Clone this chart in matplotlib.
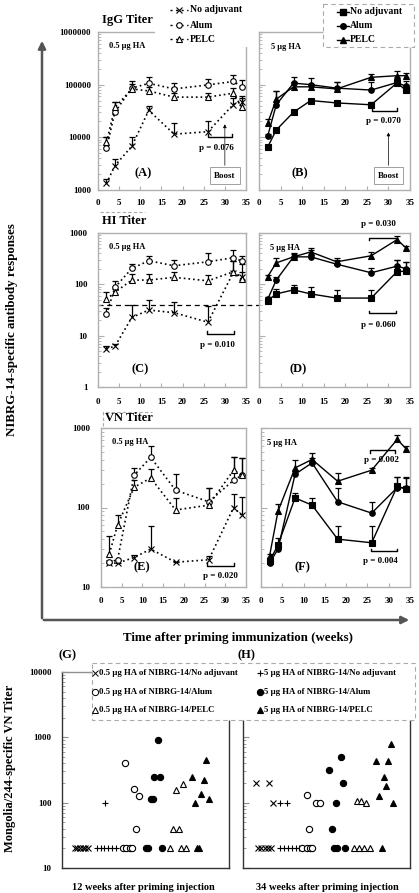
import numpy as np
import matplotlib
matplotlib.use('Agg')
import matplotlib.pyplot as plt
from matplotlib.patches import Rectangle
from matplotlib.lines import Line2D
from matplotlib.ticker import FixedLocator, LogLocator, FuncFormatter, NullFormatter
import matplotlib.transforms as mtransforms

plt.rcParams['font.family'] = ['Liberation Serif', 'DejaVu Serif']
plt.rcParams['font.weight'] = 'bold'

W, H = 419, 893

# ---------------- data ----------------
weeks = [2, 4, 8, 12, 18, 26, 32, 34]
group_labels = ['No adjuvant', 'Alum', 'PELC']

# IgG titer, 0.5 ug HA
igg_05_none = [1330, 2900, 6800, 32500, 11500, 12800, 42000, 47000]
igg_05_none_top = [1650, 3900, 10200, 39000, 19000, 20500, 55000, 62000]
igg_05_alum = [6200, 30000, 86000, 106000, 83000, 99000, 115000, 91000]
igg_05_alum_top = [10000, 46000, 118000, 137000, 107000, 128000, 155000, 120000]
igg_05_pelc = [8000, 37000, 83000, 76000, 58000, 58000, 69000, 37000]
igg_05_pelc_top = [10000, 46000, 105000, 90000, 69000, 70000, 85000, 57000]
# IgG titer, 5 ug HA
igg_5_none = [6500, 13800, 30000, 50000, 45000, 41500, 108000, 79000]
igg_5_none_top = [7000, 15000, 31000, 54000, 49000, 47000, 120000, 100000]
igg_5_alum = [10500, 41500, 107000, 100000, 86000, 79000, 110000, 93000]
igg_5_alum_top = [11500, 76000, 138000, 132000, 110000, 110000, 140000, 118000]
igg_5_pelc = [18500, 53000, 91000, 91000, 83000, 138000, 148000, 148000]
igg_5_pelc_top = [22000, 77000, 110000, 105000, 110000, 158000, 185000, 170000]

# HI titer, 0.5 ug HA
hi_05_none = [5.6, 6.2, 22.6, 31.6, 28, 18.3, 170, 140]
hi_05_none_top = [6.2, 6.8, 40, 50, 46, 37, 290, 250]
hi_05_alum = [26, 87, 204, 288, 230, 275, 330, 285]
hi_05_alum_top = [34, 117, 247, 354, 296, 410, 460, 360]
hi_05_pelc = [51, 70, 121, 121, 137, 117, 176, 125]
hi_05_pelc_top = [72, 80, 158, 158, 176, 150, 290, 175]
# HI titer, 5 ug HA
hi_5_none = [48, 65, 78, 65, 54, 54, 177, 180]
hi_5_none_top = [57, 80, 97, 87, 78, 78, 296, 275]
hi_5_alum = [51, 121, 343, 343, 247, 168, 226, 203]
hi_5_alum_top = [56, 140, 400, 460, 296, 205, 296, 275]
hi_5_pelc = [141, 262, 343, 428, 275, 360, 743, 520]
hi_5_pelc_top = [155, 320, 390, 500, 320, 430, 870, 560]

# VN titer, 0.5 ug HA
vn_05_none = [20, 20, 23.5, 30, 20.5, 22, 100, 80]
vn_05_none_top = [20, 20, 25, 58, 20.5, 24.5, 150, 135]
vn_05_alum = [20.5, 22, 255, 427, 165, 118, 220, 255]
vn_05_alum_top = [20.5, 22, 315, 596, 263, 174, 428, 420]
vn_05_pelc = [26, 60, 180, 235, 93, 107, 295, 255]
vn_05_pelc_top = [44, 80, 220, 301, 131, 174, 430, 420]
# VN titer, 5 ug HA
vn_5_none = [21, 34, 132, 107, 40, 36, 185, 172]
vn_5_none_top = [24, 41, 153, 132, 58, 58, 245, 240]
vn_5_alum = [20, 30, 262, 364, 118, 85, 178, 175]
vn_5_alum_top = [21, 33, 300, 420, 175, 118, 240, 235]
vn_5_pelc = [24.4, 90, 315, 402, 214, 295, 720, 552]
vn_5_pelc_top = [26, 110, 400, 483, 273, 310, 815, 600]

# Mongolia/244 VN titers, individual animals (x = jitter position within panel, 0-100)
g_none05_x = [7.6, 9.1, 10.7, 12.3, 13.9, 15.5]
g_none05_v = [20, 20, 20, 20, 20, 20]
g_none5_x = [26.0, 20.9, 23.1, 25.4, 27.8, 30.0, 32.4]
g_none5_v = [100, 20, 20, 20, 20, 20, 20]
g_alum05_x = [37.6, 42.9, 45.9, 44.3, 36.4, 38.4, 40.8, 41.9]
g_alum05_v = [400, 160, 128, 40, 20, 20, 20, 20]
g_alum5_x = [57.3, 55.3, 58.6, 53.3, 54.7, 50.3, 51.7, 59.8]
g_alum5_v = [900, 250, 250, 113, 113, 20, 20, 20]
g_pelc05_x = [68.2, 72.2, 66.6, 69.8, 64.6, 71.2, 74.2]
g_pelc05_v = [155, 195, 40, 40, 20, 20, 20]
g_pelc5_x = [77.7, 86.5, 84.9, 83.1, 79.7, 88.1, 81.1, 82.3]
g_pelc5_v = [250, 445, 225, 135, 100, 113, 20, 20]

h_none05_x = [8.0, 15.4, 18.0, 9.0, 11.0, 13.0, 15.0, 17.0]
h_none05_v = [200, 200, 100, 20, 20, 20, 20, 20]
h_none5_x = [22.4, 26.4, 22.0, 24.4, 26.8, 29.2, 31.6, 33.6]
h_none5_v = [100, 100, 20, 20, 20, 20, 20, 20]
h_alum05_x = [38.4, 43.6, 46.4, 39.6, 35.6, 38.4, 40.0, 41.6]
h_alum05_v = [130, 100, 100, 40, 20, 20, 20, 20]
h_alum5_x = [58.6, 51.2, 60.0, 55.6, 53.0, 54.4, 56.4, 61.0]
h_alum5_v = [500, 316, 200, 100, 40, 20, 20, 20]
h_pelc05_x = [68.0, 70.6, 73.6, 66.4, 69.6, 72.6, 76.0]
h_pelc05_v = [105, 105, 100, 20, 20, 20, 20]
h_pelc5_x = [88.6, 79.4, 87.0, 84.2, 85.6, 81.4, 90.0, 83.0]
h_pelc5_v = [780, 440, 440, 250, 183, 127, 100, 20]

scatter_labels_05 = ['0.5 \u03bcg HA of NIBRG-14/No adjuvant', '0.5 \u03bcg HA of NIBRG-14/Alum',
                     '0.5 \u03bcg HA of NIBRG-14/PELC']
scatter_labels_5 = ['5 \u03bcg HA of NIBRG-14/No adjuvant', '5 \u03bcg HA of NIBRG-14/Alum',
                    '5 \u03bcg HA of NIBRG-14/PELC']

# ---------------- figure ----------------
fig = plt.figure(figsize=(W / 100, H / 100), dpi=100)
SPINE = '#b0b0b0'
DOT = (0, (1, 1.8))


def px_axes(x0, y0, x1, y1):
    return fig.add_axes([x0 / W, 1 - y1 / H, (x1 - x0) / W, (y1 - y0) / H])


def style_panel(ax, ylim, majors, ylabels, ypad, xpad):
    ax.set_yscale('log')
    ax.set_ylim(*ylim)
    ax.set_xlim(0, 35)
    ax.yaxis.set_major_locator(FixedLocator(majors))
    ax.yaxis.set_minor_locator(LogLocator(base=10, subs=np.arange(2, 10)))
    ax.yaxis.set_minor_formatter(NullFormatter())
    ax.yaxis.set_major_formatter(FuncFormatter(lambda v, p: f'{v:.0f}'))
    ax.xaxis.set_major_locator(FixedLocator([0, 5, 10, 15, 20, 25, 30, 35]))
    for s in ax.spines.values():
        s.set_color(SPINE)
        s.set_linewidth(1.0)
    ax.tick_params(axis='both', which='both', direction='in', color=SPINE)
    ax.tick_params(axis='y', which='major', length=4, pad=ypad, labelsize=6.5, labelleft=ylabels)
    ax.tick_params(axis='y', which='minor', length=2.5)
    ax.tick_params(axis='x', which='major', length=3, pad=xpad, labelsize=6.5)


def draw_series(ax, vals, tops, marker, filled, dotted):
    ax.plot(weeks, vals, color='black', lw=1.0 if not dotted else 1.2,
            ls=DOT if dotted else '-', marker=marker, ms=4 if marker != 'x' else 4.5,
            mfc='black' if filled else 'white', mec='black', mew=0.8, zorder=3)
    ax.vlines(weeks, vals, tops, color='black', lw=0.9, zorder=2)
    ax.plot(weeks, tops, ls='none', marker='_', ms=4, mew=0.9, color='black', zorder=2)


def bracket(ax, x0, x1, y, f):
    ax.plot([x0, x0, x1, x1], [y * f, y, y, y * f], color='black', lw=1.0, clip_on=False)


# Panel A / B (IgG)
axA = px_axes(98, 32, 246, 190)
axB = px_axes(259, 32, 410, 190)
style_panel(axA, (1e3, 1e6), [1e3, 1e4, 1e5, 1e6], True, 5, 6.5)
style_panel(axB, (1e3, 1e6), [1e3, 1e4, 1e5, 1e6], False, 5, 6.5)
draw_series(axA, igg_05_none, igg_05_none_top, 'x', False, True)
draw_series(axA, igg_05_alum, igg_05_alum_top, 'o', False, True)
draw_series(axA, igg_05_pelc, igg_05_pelc_top, '^', False, True)
draw_series(axB, igg_5_none, igg_5_none_top, 's', True, False)
draw_series(axB, igg_5_alum, igg_5_alum_top, 'o', True, False)
draw_series(axB, igg_5_pelc, igg_5_pelc_top, '^', True, False)

# Panel C / D (HI)
axC = px_axes(98, 233, 246, 387)
axD = px_axes(259, 233, 410, 387)
style_panel(axC, (1, 1e3), [1, 10, 100, 1000], True, 7.5, 8)
style_panel(axD, (1, 1e3), [1, 10, 100, 1000], False, 7.5, 8)
draw_series(axC, hi_05_none, hi_05_none_top, 'x', False, True)
draw_series(axC, hi_05_alum, hi_05_alum_top, 'o', False, True)
draw_series(axC, hi_05_pelc, hi_05_pelc_top, '^', False, True)
draw_series(axD, hi_5_none, hi_5_none_top, 's', True, False)
draw_series(axD, hi_5_alum, hi_5_alum_top, 'o', True, False)
draw_series(axD, hi_5_pelc, hi_5_pelc_top, '^', True, False)
tr = mtransforms.blended_transform_factory(axC.transAxes, axC.transData)
axC.plot([0, (410 - 98) / 148], [40, 40], transform=tr, color='black', lw=0.9,
         ls=(0, (4, 3)), clip_on=False, zorder=1)

# Panel E / F (VN)
axE = px_axes(101, 428, 246, 587)
axF = px_axes(261, 428, 410, 587)
style_panel(axE, (10, 1e3), [10, 100, 1000], True, 8, 7)
style_panel(axF, (10, 1e3), [10, 100, 1000], False, 8, 7)
draw_series(axE, vn_05_none, vn_05_none_top, 'x', False, True)
draw_series(axE, vn_05_alum, vn_05_alum_top, 'o', False, True)
draw_series(axE, vn_05_pelc, vn_05_pelc_top, '^', False, True)
draw_series(axF, vn_5_none, vn_5_none_top, 's', True, False)
draw_series(axF, vn_5_alum, vn_5_alum_top, 'o', True, False)
draw_series(axF, vn_5_pelc, vn_5_pelc_top, '^', True, False)

# annotations in panels
tk = dict(fontsize=6.5, fontweight='bold', ha='center', va='center')
pl = dict(fontsize=9, fontweight='bold', ha='center', va='center')
for ax, lab in [(axA, '0.5 \u03bcg HA'), (axC, '0.5 \u03bcg HA'), (axE, '0.5 \u03bcg HA')]:
    ax.text(0.075, 0.91, lab, transform=ax.transAxes, fontsize=6, fontweight='bold', va='center')
for ax, lab, xx in [(axB, '5 \u03bcg HA', 0.08), (axD, '5 \u03bcg HA', 0.07), (axF, '5 \u03bcg HA', 0.04)]:
    ax.text(xx, 0.905, lab, transform=ax.transAxes, fontsize=6, fontweight='bold', va='center')

axA.text(10.7, 2100, '(A)', **pl)
axB.text(9.5, 2100, '(B)', **pl)
axC.text(9.9, 2.2, '(C)', **pl)
axD.text(9.1, 2.2, '(D)', **pl)
axE.text(9.9, 17.5, '(E)', **pl)
axF.text(9.7, 17.5, '(F)', **pl)

bracket(axA, 26.1, 31.7, 10200, 1.12)
axA.text(28.1, 6200, 'p = 0.076', **tk)
bracket(axB, 26.1, 32.1, 31600, 1.12)
axB.text(28.8, 20400, 'p = 0.070', **tk)
for ax, xa, ytop in [(axA, 30.0, 20000), (axB, 30.0, 14000)]:
    ax.annotate('', xy=(xa, ytop), xytext=(xa, 2600),
                arrowprops=dict(arrowstyle='-|>', color='black', lw=0.5, mutation_scale=5))
    ax.text(xa, 1880, 'Boost', fontsize=6.5, fontweight='bold', ha='center', va='center',
            bbox=dict(boxstyle='square,pad=0.45', fc='white', ec='#909090', lw=0.6))

bracket(axC, 25.8, 32.1, 11, 1.12)
axC.text(28.2, 6.5, 'p = 0.010', **tk)
bracket(axD, 25.6, 31.8, 815, 0.9)
axD.text(27.7, 1470, 'p = 0.030', **tk)
bracket(axD, 25.6, 31.8, 27.5, 1.12)
axD.text(27.7, 16.3, 'p = 0.060', **tk)

bracket(axE, 25.7, 32.0, 18.6, 1.07)
axE.text(28.9, 13.8, 'p = 0.020', **tk)
bracket(axF, 25.6, 31.5, 525, 0.93)
axF.text(28.3, 400, 'p = 0.002', **tk)
bracket(axF, 25.8, 31.9, 28, 1.07)
axF.text(27.95, 21, 'p = 0.004', **tk)

# Panels G / H
axG = px_axes(62, 672, 229, 868)
axH = px_axes(243, 672, 410, 868)
for ax, ylab in [(axG, True), (axH, False)]:
    ax.set_yscale('log')
    ax.set_ylim(10, 1e4)
    ax.set_xlim(0, 100)
    ax.yaxis.set_major_locator(FixedLocator([10, 100, 1000, 10000]))
    ax.yaxis.set_minor_locator(LogLocator(base=10, subs=np.arange(2, 10)))
    ax.yaxis.set_minor_formatter(NullFormatter())
    ax.yaxis.set_major_formatter(FuncFormatter(lambda v, p: f'{v:.0f}'))
    ax.set_xticks([])
    for s in ax.spines.values():
        s.set_color('#333333')
        s.set_linewidth(1.0)
    ax.spines['top'].set_color('#909090')
    ax.tick_params(axis='y', which='both', direction='in', color='#909090', labelleft=ylab,
                   labelsize=6.5, pad=7.5)
    ax.tick_params(axis='y', which='major', length=4)
    ax.tick_params(axis='y', which='minor', length=2.5)

sc = dict(ls='none', color='black', mec='black', ms=4.5, mew=0.8, zorder=3)
for ax, grp in [(axG, [(g_none05_x, g_none05_v), (g_none5_x, g_none5_v), (g_alum05_x, g_alum05_v),
                       (g_alum5_x, g_alum5_v), (g_pelc05_x, g_pelc05_v), (g_pelc5_x, g_pelc5_v)]),
                (axH, [(h_none05_x, h_none05_v), (h_none5_x, h_none5_v), (h_alum05_x, h_alum05_v),
                       (h_alum5_x, h_alum5_v), (h_pelc05_x, h_pelc05_v), (h_pelc5_x, h_pelc5_v)])]:
    ax.plot(grp[0][0], grp[0][1], marker='x', **sc)
    ax.plot(grp[1][0], grp[1][1], marker='+', **sc)
    ax.plot(grp[2][0], grp[2][1], marker='o', mfc='white', **sc)
    ax.plot(grp[3][0], grp[3][1], marker='o', mfc='black', **sc)
    ax.plot(grp[4][0], grp[4][1], marker='^', mfc='white', **sc)
    ax.plot(grp[5][0], grp[5][1], marker='^', mfc='black', **sc)

# ---------------- overlay (arrows, titles, legends) ----------------
ov = fig.add_axes([0, 0, 1, 1], zorder=10)
ov.set_xlim(0, W)
ov.set_ylim(H, 0)
ov.axis('off')
ov.patch.set_alpha(0)

ov.annotate('', xy=(42, 38), xytext=(42, 621),
            arrowprops=dict(arrowstyle='-|>', color='#555555', lw=1.8, mutation_scale=11))
ov.annotate('', xy=(412, 620), xytext=(41, 620),
            arrowprops=dict(arrowstyle='-|>', color='#555555', lw=1.8, mutation_scale=11))

ov.text(12, 330, 'NIBRG-14-specific antibody responses', rotation=90, fontsize=9.3,
        fontweight='bold', ha='center', va='center')
ov.text(238, 638, 'Time after priming immunization (weeks)', fontsize=9.3,
        fontweight='bold', ha='center', va='center')

ov.text(102, 20, 'IgG Titer', fontsize=9, fontweight='bold', va='center')
ov.text(102, 221, 'HI Titer', fontsize=9, fontweight='bold', va='center')
ov.plot([100, 145], [212, 212], color='#aaaaaa', lw=0.8, ls=(0, (3, 2)))
ov.text(105, 418, 'VN Titer', fontsize=9, fontweight='bold', va='center')
ov.plot([103, 103, 152], [426, 411.5, 411.5], color='#aaaaaa', lw=0.8, ls=(0, (3, 2)))

# top-left legend (0.5 ug)
ov.add_patch(Rectangle((155, 0), 95, 47, fc='white', ec='none'))
for yy, mk, lab in zip([10, 25, 39], ['x', 'o', '^'], group_labels):
    ov.add_line(Line2D([170, 188], [yy, yy], color='black', lw=1.0, ls=(0, (1.5, 2.5))))
    ov.plot([179], [yy], marker=mk, ms=4, mfc='white', mec='black', mew=0.8, color='black')
    ov.text(190, yy, lab, fontsize=7, fontweight='bold', va='center')

# top-right legend (5 ug)
ov.add_patch(Rectangle((323, 4), 91, 43, fc='white', ec='#aaaaaa', lw=0.8, ls=(0, (4, 3))))
for yy, mk, lab in zip([12, 26, 40], ['s', 'o', '^'], group_labels):
    ov.add_line(Line2D([337, 349], [yy, yy], color='black', lw=1.0))
    ov.plot([343], [yy], marker=mk, ms=4, mfc='black', mec='black', color='black')
    ov.text(349.5, yy, lab, fontsize=7, fontweight='bold', va='center')

# G/H legend
ov.add_patch(Rectangle((92, 663), 323, 57, fc='white', ec='#aaaaaa', lw=0.8, ls=(0, (4, 3))))
for yy, mk, lab in zip([673, 692, 710], ['x', 'o', '^'], scatter_labels_05):
    ov.plot([95], [yy], marker=mk, ms=4.5, mfc='white', mec='black', mew=0.7, color='black')
    ov.text(98.5, yy, lab, fontsize=6.3, fontweight='bold', va='center')
for yy, mk, lab in zip([673, 692, 710], ['+', 'o', '^'], scatter_labels_5):
    ov.plot([260], [yy], marker=mk, ms=4.5, mfc='black', mec='black', mew=0.8, color='black')
    ov.text(264, yy, lab, fontsize=6.3, fontweight='bold', va='center')

ov.text(67, 655, '(G)', fontsize=9, fontweight='bold', ha='center', va='center')
ov.text(246, 655, '(H)', fontsize=9, fontweight='bold', ha='center', va='center')
ov.text(10, 768, 'Mongolia/244-specific VN Titer', rotation=90, fontsize=9,
        fontweight='bold', ha='center', va='center')
ov.text(143, 887, '12 weeks after priming injection', fontsize=7.5, fontweight='bold',
        ha='center', va='center')
ov.text(327, 887, '34 weeks after priming injection', fontsize=7.5, fontweight='bold',
        ha='center', va='center')

fig.savefig('out.png', dpi=100)
